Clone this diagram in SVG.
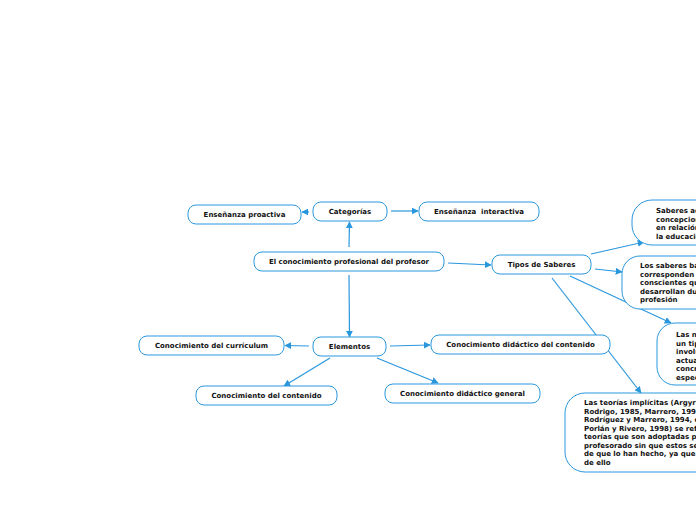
<svg xmlns="http://www.w3.org/2000/svg" width="696" height="520" viewBox="0 0 696 520">
<defs>
<marker id="ah" viewBox="0 0 10 10" refX="9" refY="5" markerWidth="7" markerHeight="7" markerUnits="userSpaceOnUse" orient="auto">
<path d="M0,0 L10,5 L0,10 z" fill="#2a97dd"/>
</marker>
</defs>
<style>
.n rect{fill:#fff;stroke:#2a97dd;stroke-width:1}
.n text,.t{font-family:"DejaVu Sans",Verdana,sans-serif;font-weight:bold;font-size:7px;fill:#111}
.c{text-anchor:middle}
#connectors line{stroke:#2a97dd;stroke-width:1.2;marker-end:url(#ah)}
</style>
<rect width="696" height="520" fill="#fff"/>
<g id="connectors">
<line x1="309" y1="212" x2="302" y2="212"/>
<line x1="391" y1="211" x2="418" y2="211"/>
<line x1="349" y1="247" x2="349.5" y2="222"/>
<line x1="448" y1="263" x2="491" y2="265"/>
<line x1="349" y1="275" x2="349.5" y2="337"/>
<line x1="309" y1="346" x2="285" y2="345.5"/>
<line x1="390" y1="346" x2="430" y2="345"/>
<line x1="330" y1="358" x2="284" y2="386"/>
<line x1="377" y1="358" x2="438" y2="383"/>
<line x1="591" y1="254" x2="644" y2="242"/>
<line x1="595" y1="269" x2="622" y2="272"/>
<line x1="570" y1="276" x2="671" y2="323"/>
<line x1="552" y1="278" x2="641" y2="393"/>
</g>
<g id="n-proactiva" class="n"><rect x="188" y="205" width="113" height="19" rx="8"/><text class="c" x="244.5" y="216.5">Enseñanza proactiva</text></g>
<g id="n-categorias" class="n"><rect x="313" y="202" width="74" height="19" rx="8"/><text class="c" x="350" y="213.5">Categorías</text></g>
<g id="n-interactiva" class="n"><rect x="419" y="202" width="120" height="19" rx="8"/><text class="c" x="479" y="213.5" xml:space="preserve">Enseñanza  interactiva</text></g>
<g id="n-main" class="n"><rect x="254" y="252" width="190" height="19" rx="8"/><text class="c" x="349" y="263.5">El conocimiento profesional del profesor</text></g>
<g id="n-tipos" class="n"><rect x="492" y="255" width="99" height="19" rx="8"/><text class="c" x="541.5" y="267">Tipos de Saberes</text></g>
<g id="n-saberes-ac" class="n"><rect x="632" y="200" width="90" height="45" rx="20"/>
<text x="656" y="213">Saberes ac</text><text x="656" y="221.5">concepcion</text><text x="656" y="230">en relación</text><text x="656" y="238.5">la educació</text></g>
<g id="n-saberes-ba" class="n"><rect x="622" y="256" width="100" height="53" rx="18"/>
<text x="640" y="268">Los saberes ba</text><text x="640" y="276.5">corresponden</text><text x="640" y="285">conscientes qu</text><text x="640" y="293.5">desarrollan du</text><text x="640" y="302">profesión</text></g>
<g id="n-las-n" class="n"><rect x="657" y="323" width="70" height="62" rx="18"/>
<text x="676" y="337">Las n</text><text x="676" y="345.5">un tip</text><text x="676" y="354">involu</text><text x="676" y="362.5">actua</text><text x="676" y="371">concr</text><text x="676" y="379.5">espec</text></g>
<g id="n-teorias" class="n"><rect x="565" y="393" width="160" height="79" rx="20"/>
<text x="584" y="405">Las teorías implícitas (Argyri</text>
<text x="584" y="413.5">Rodrigo, 1985, Marrero, 199</text>
<text x="584" y="422">Rodríguez y Marrero, 1994, c</text>
<text x="584" y="430.5">Porlán y Rivero, 1998) se ref</text>
<text x="584" y="439">teorías que son adoptadas po</text>
<text x="584" y="447.5">profesorado sin que estos se</text>
<text x="584" y="456">de que lo han hecho, ya que</text>
<text x="584" y="464.5">de ello</text></g>
<g id="n-curriculum" class="n"><rect x="139" y="336" width="145" height="19" rx="8"/><text class="c" x="211.5" y="347.5">Conocimiento del currículum</text></g>
<g id="n-elementos" class="n"><rect x="313" y="337" width="73" height="19" rx="8"/><text class="c" x="349.5" y="348.5">Elementos</text></g>
<g id="n-didactico-contenido" class="n"><rect x="431" y="335" width="179" height="19" rx="8"/><text class="c" x="520.5" y="347">Conocimiento didáctico del contenido</text></g>
<g id="n-contenido" class="n"><rect x="196" y="386" width="141" height="19" rx="8"/><text class="c" x="266.5" y="397.5">Conocimiento del contenido</text></g>
<g id="n-general" class="n"><rect x="385" y="384" width="155" height="19" rx="8"/><text class="c" x="462.5" y="396">Conocimiento didáctico general</text></g>
</svg>
